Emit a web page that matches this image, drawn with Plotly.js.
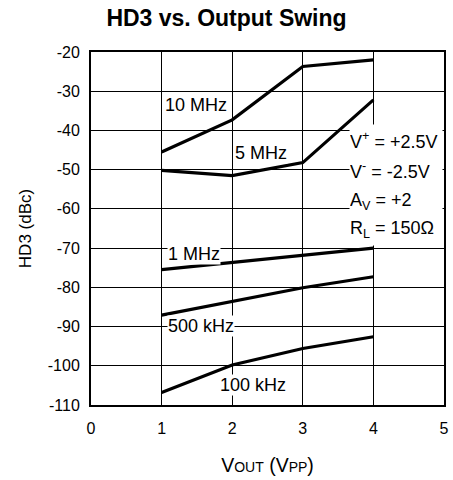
<!DOCTYPE html>
<html>
<head>
<meta charset="utf-8">
<script src="https://cdn.plot.ly/plotly-3.0.1.min.js"></script>
<style>
  html, body { margin: 0; padding: 0; background: #fff; }
  #chart { width: 453px; height: 480px; }
</style>
</head>
<body>
<div id="chart"></div>
<script>
// Output swing (Vpp) at which HD3 was measured
const vout = [1, 2, 3, 4];

// HD3 (dBc) for each test frequency
const hd3_10MHz  = [-45.5, -37.3, -23.7, -22.0];
const hd3_5MHz   = [-50.2, -51.5, -48.2, -32.2];
const hd3_1MHz   = [-75.5, -73.6, -71.8, -70.0];
const hd3_500kHz = [-87.1, -83.5, -80.1, -77.3];
const hd3_100kHz = [-106.8, -99.8, -95.6, -92.6];

const seriesNames = ['10 MHz', '5 MHz', '1 MHz', '500 kHz', '100 kHz'];
const seriesData = [hd3_10MHz, hd3_5MHz, hd3_1MHz, hd3_500kHz, hd3_100kHz];

// Axis ticks (plain hyphen for negative values)
const xTicks = [0, 1, 2, 3, 4, 5];
const xTickText = ['0', '1', '2', '3', '4', '5'];
const yTicks = [-110, -100, -90, -80, -70, -60, -50, -40, -30, -20];
const yTickText = ['-110', '-100', '-90', '-80', '-70', '-60', '-50', '-40', '-30', '-20'];

// Curve label positions [x, y] in data units
const labelPos = [[1.03, -33.6], [2.02, -45.8], [1.08, -71.5], [1.08, -89.9], [1.81, -104.9]];

// Test conditions printed on the right
const conditions = ['V<sup>+</sup> = +2.5V', 'V<sup>-</sup> = -2.5V', 'A<sub>V</sub> = +2', 'R<sub>L</sub> = 150Ω'];
const conditionY = [-42.6, -50.2, -58.2, -65.2];

const font = 'Liberation Sans, Arial, sans-serif';

const traces = seriesData.map((ys, i) => ({
  x: vout, y: ys, name: seriesNames[i],
  type: 'scatter', mode: 'lines',
  line: { color: '#000', width: 3.2 },
  hoverinfo: 'skip'
}));

const annotations = seriesNames.map((n, i) => ({
  x: labelPos[i][0], y: labelPos[i][1], xref: 'x', yref: 'y',
  text: n, showarrow: false, xanchor: 'left', yanchor: 'middle',
  font: { family: font, size: 18, color: '#000' },
  bgcolor: '#fff', borderpad: 0
}));
// Condition block: stacked white boxes of equal size so they read as one panel
conditions.forEach((t, i) => annotations.push({
  x: 3.655, y: conditionY[i], xref: 'x', yref: 'y',
  text: t, showarrow: false, xanchor: 'left', yanchor: 'middle',
  width: 92, height: 31, align: 'left', valign: 'middle',
  font: { family: font, size: 18, color: '#000' },
  bgcolor: '#fff', borderpad: 0
}));

const layout = {
  width: 453, height: 480,
  margin: { l: 91, r: 9, t: 52, b: 75 },
  paper_bgcolor: '#fff', plot_bgcolor: '#fff',
  showlegend: false,
  title: {
    text: '<b>HD3 vs. Output Swing</b>',
    x: 0.5, xanchor: 'center', y: 0.962, yanchor: 'middle',
    font: { family: font, size: 23, color: '#000' }
  },
  xaxis: {
    range: [0, 5], tickmode: 'array', tickvals: xTicks, ticktext: xTickText,
    showgrid: true, gridcolor: '#000', gridwidth: 1,
    zeroline: false, showline: true, linecolor: '#000', linewidth: 2, mirror: true,
    ticks: '', ticklabelstandoff: 8, tickfont: { family: font, size: 16, color: '#000' },
    title: {
      text: 'V<span style="font-size:14px">OUT</span> (V<span style="font-size:14px">PP</span>)',
      standoff: 22, font: { family: font, size: 19.5, color: '#000' }
    }
  },
  yaxis: {
    range: [-110, -20], tickmode: 'array', tickvals: yTicks, ticktext: yTickText,
    showgrid: true, gridcolor: '#000', gridwidth: 1,
    zeroline: false, showline: true, linecolor: '#000', linewidth: 2, mirror: true,
    ticks: '', ticklabelstandoff: 6, tickfont: { family: font, size: 16, color: '#000' },
    title: { text: 'HD3 (dBc)', standoff: 12, font: { family: font, size: 17, color: '#000' } }
  },
  annotations: annotations
};

Plotly.newPlot('chart', traces, layout, { displayModeBar: false, staticPlot: true });
</script>
</body>
</html>
